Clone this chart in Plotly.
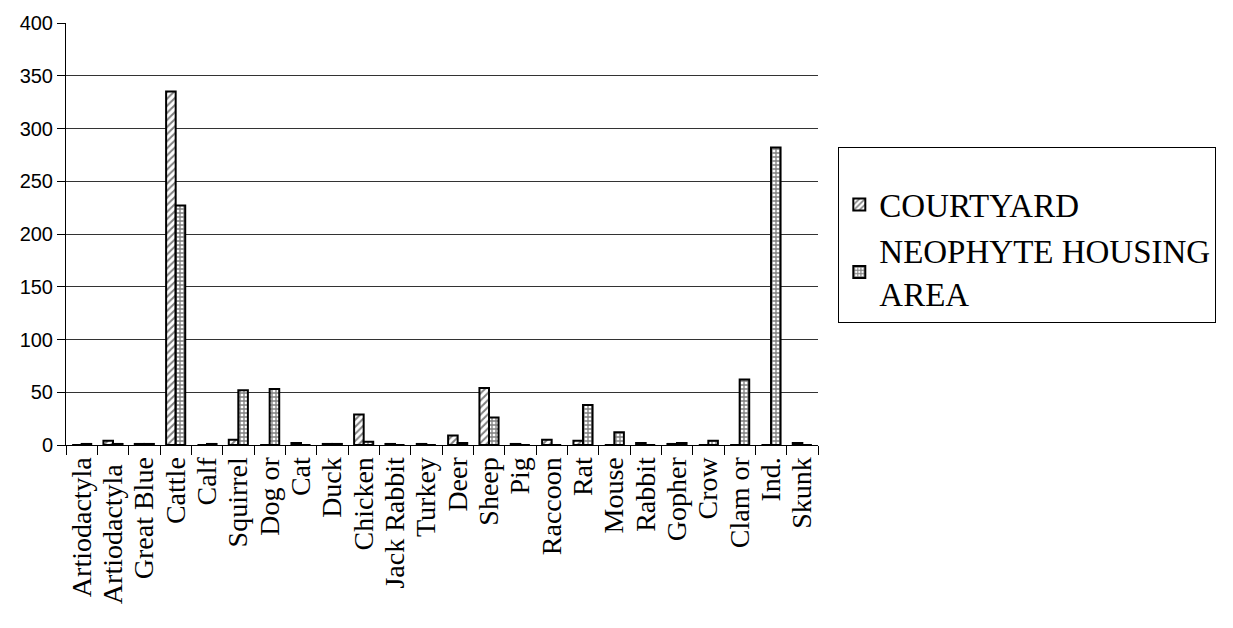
import plotly.graph_objects as go

categories = ["Artiodactyla", "Artiodactyla ", "Great Blue", "Cattle", "Calf", "Squirrel",
              "Dog or", "Cat", "Duck", "Chicken", "Jack Rabbit", "Turkey", "Deer", "Sheep",
              "Pig", "Raccoon", "Rat", "Mouse", "Rabbit", "Gopher", "Crow", "Clam or",
              "Ind.", "Skunk"]

courtyard = [0, 4, 1, 335, 0, 5, 0, 2, 1, 29, 1, 1, 9, 54, 1, 5, 4, 0, 2, 1, 0, 0, 0, 2]
neophyte = [1, 1, 1, 227, 1, 52, 53, 0, 1, 3, 0, 0, 2, 26, 0, 0, 38, 12, 0, 2, 4, 62, 282, 0]

y_ticks = [0, 50, 100, 150, 200, 250, 300, 350, 400]

serif = "Liberation Serif, Times New Roman, serif"

fig = go.Figure()
fig.add_trace(go.Bar(
    x=categories, y=courtyard, name="COURTYARD", legendgroup="c",
    marker=dict(color="white", line=dict(color="black", width=2),
                pattern=dict(shape="/", fgcolor="black", bgcolor="white",
                             size=5, solidity=0.4)),
))
fig.add_trace(go.Bar(
    x=categories, y=neophyte, name="NEOPHYTE HOUSING<br>AREA", legendgroup="n",
    marker=dict(color="white", line=dict(color="black", width=2),
                pattern=dict(shape="+", fgcolor="black", bgcolor="white",
                             size=4, solidity=0.55)),
))

fig.update_layout(
    width=1233, height=628,
    margin=dict(l=66, r=415, t=23, b=183),
    paper_bgcolor="white", plot_bgcolor="white",
    barmode="group", bargap=0.39, bargroupgap=0,
    showlegend=True,
    legend=dict(
        x=1.027, y=0.706, xanchor="left", yanchor="top",
        bordercolor="black", borderwidth=1, bgcolor="white",
        font=dict(family=serif, size=33, color="black"),
        title=dict(text=" ", font=dict(family=serif, size=22)),
        tracegroupgap=14, traceorder="normal", itemwidth=30,
    ),
    xaxis=dict(
        type="category", tickmode="array", tickvals=categories,
        tickson="boundaries", ticks="outside", ticklen=9,
        tickcolor="black", showline=True, linecolor="black", linewidth=1,
        tickangle=-90, showgrid=False,
        tickfont=dict(family=serif, size=28, color="black"),
    ),
    yaxis=dict(
        range=[0, 400], tickvals=y_ticks, ticks="outside", ticklen=8,
        tickcolor="black", showline=True, linecolor="black", linewidth=1,
        showgrid=True, gridcolor="#333333", gridwidth=1, zeroline=False,
        tickfont=dict(family="Liberation Sans, Arial, sans-serif", size=20, color="black"),
    ),
)

fig.write_html("out.html")
